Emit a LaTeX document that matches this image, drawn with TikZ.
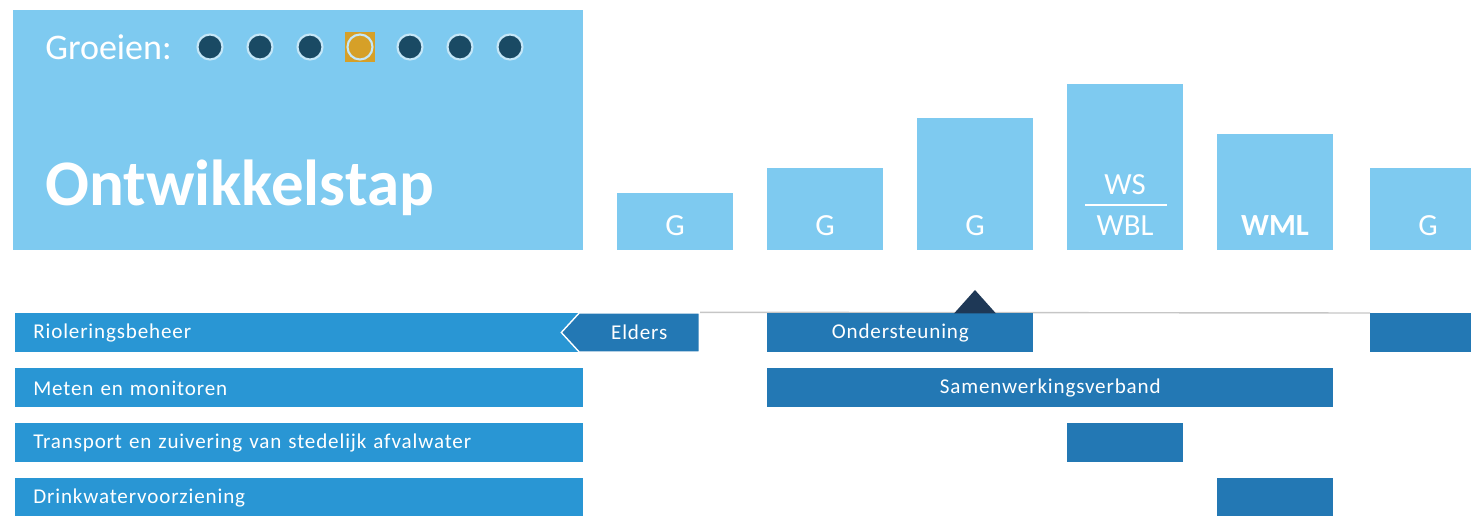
\documentclass[tikz,border=0pt]{standalone}
\usepackage{fontspec}
\setmainfont{Carlito}
\newfontfamily\rowfont[LetterSpace=4]{Carlito}
\usetikzlibrary{positioning,shapes.geometric,shapes.symbols}
\definecolor{headblue}{RGB}{126,202,240}
\definecolor{rowblue}{RGB}{41,150,212}
\definecolor{taskblue}{RGB}{35,120,180}
\definecolor{dotnavy}{RGB}{26,74,100}
\definecolor{dotgold}{RGB}{214,160,40}
\definecolor{tipnavy}{RGB}{30,56,86}

\begin{document}
\begin{tikzpicture}[
    x=0.02cm, y=-0.02cm,
    colbox/.style={fill=headblue, anchor=south west, minimum width=2.32cm, inner sep=0pt},
    coltext/.style={text=white, inner sep=0pt, font=\fontsize{17.5}{20}\selectfont},
    rowbar/.style={fill=rowblue, text=white, anchor=north west, minimum height=0.78cm, text width=10.64cm,
                   inner xsep=0.36cm, inner ysep=0pt, align=left, font=\rowfont\fontsize{12}{14}\selectfont},
    taskbox/.style={fill=taskblue, text=white, anchor=north west, minimum height=0.78cm, inner sep=0pt,
                    font=\rowfont\fontsize{12}{14}\selectfont},
    stepdot/.style={circle, minimum size=0.5cm, inner sep=0pt, draw=headblue!45!white, line width=1.2pt}
]
\useasboundingbox (0,0) rectangle (1471,516);

% header
\node[fill=headblue, anchor=north west, minimum width=11.4cm, minimum height=4.8cm, inner sep=0pt] (head) at (13,10) {};
\node[text=white, anchor=west, inner sep=0pt, font=\fontsize{20.5}{24}\selectfont] (groei) at (45,47) {Groeien:};
\node[fill=dotgold, minimum size=0.6cm, inner sep=0pt] (cur) at (360,47) {};
\foreach \i/\c in {1/dotnavy,2/dotnavy,3/dotnavy,4/dotgold,5/dotnavy,6/dotnavy,7/dotnavy}
    \node[stepdot, fill=\c] (dot\i) at (160+50*\i,47) {};
\node[text=white, anchor=base west, inner sep=0pt, font=\bfseries\fontsize{37}{40}\selectfont] (title) at (45,206) {Ontwikkelstap};

% columns
\node[colbox, minimum height=1.14cm] (col1) at (617,250) {};
\node[colbox, minimum height=1.64cm] (col2) at (767,250) {};
\node[colbox, minimum height=2.64cm] (col3) at (917,250) {};
\node[colbox, minimum height=3.32cm] (col4) at (1067,250) {};
\node[colbox, minimum height=2.32cm] (col5) at (1217,250) {};
\node[colbox, minimum height=1.64cm] (col6) at (1370,250) {};
\node[coltext] (g1) at (675,226) {G};
\node[coltext] (g2) at (825,226) {G};
\node[coltext] (g3) at (975,226) {G};
\node[coltext] (ws) at (1125,185) {WS};
\node[coltext] (wbl) at (1125,226) {WBL};
\draw[white, line width=1pt] (1085,205) -- (1167,205);
\node[coltext, font=\bfseries\fontsize{17.5}{20}\selectfont] (wml) at (1275,226) {WML};
\node[coltext] (g6) at (1428,226) {G};

% rows
\node[rowbar] (lab1) at (15,313) {Rioleringsbeheer};
\node[rowbar] (lab2) at (15,368) {Meten en monitoren};
\node[rowbar] (lab3) at (15,423) {Transport en zuivering van stedelijk afvalwater};
\node[rowbar] (lab4) at (15,478) {Drinkwatervoorziening};

\node[taskbox, shape=signal, signal to=west, signal pointer angle=95, minimum width=2.76cm,
      draw=white, line width=0.8pt, anchor=east] (elders) at (700,332.5) {Elders};
\draw[gray!45, line width=0.8pt] (elders.north east) -- (1370,313);
\node[taskbox, minimum width=5.32cm] (onder) at (767,313) {Ondersteuning};
\fill[tipnavy] (954,313.5) -- (975,290) -- (996,313.5) -- cycle;
\node[taskbox, minimum width=2.32cm] (rio6) at (1370,313) {};
\node[taskbox, minimum width=11.32cm] (samen) at (767,368) {Samenwerkingsverband};
\node[taskbox, minimum width=2.32cm] (trans) at (1067,423) {};
\node[taskbox, minimum width=2.32cm] (drink) at (1217,478) {};

\end{tikzpicture}
\end{document}
